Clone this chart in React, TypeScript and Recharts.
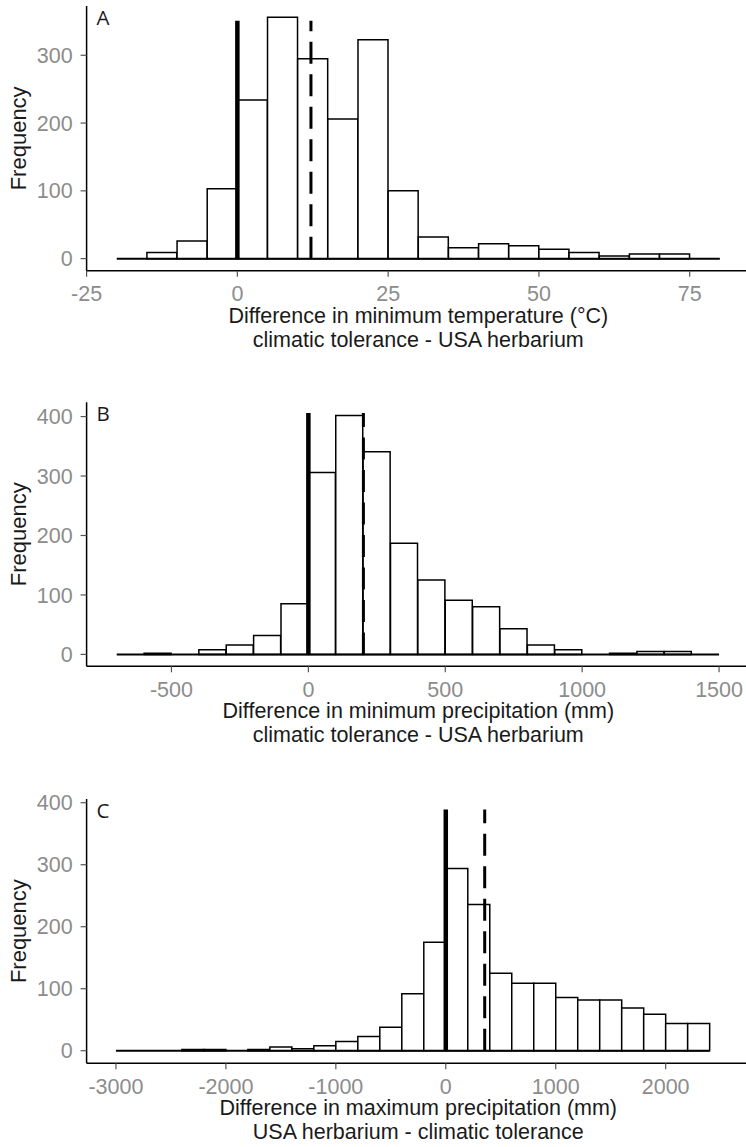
import { BarChart, Bar, XAxis, YAxis, ReferenceLine } from 'recharts'

const FONT = '"Liberation Sans", Arial, Helvetica, sans-serif'
const LETTER_FONT = '"Open Sans", "Liberation Sans", sans-serif'
const TICK_GREY = '#8c8c8c'
const INK = '#1a1a1a'

// A: minimum temperature difference, 5 °C bins starting at -20
const tempBinStart = -20
const tempBinWidth = 5
const tempCounts = [0, 9, 26, 103, 234, 356, 295, 206, 323, 100, 32, 16, 22, 19, 14, 9, 4, 7, 7, 0]
const tempTicks = [-25, 0, 25, 50, 75]
const tempFreqTicks = [0, 100, 200, 300]
const tempMarkers = [0, 12.2] // solid, dashed
const tempMarkerTop = 351

// B: minimum precipitation difference, 100 mm bins starting at -700
const minPrecBinStart = -700
const minPrecBinWidth = 100
const minPrecCounts = [0, 2, 0, 8, 16, 32, 85, 306, 402, 341, 187, 125, 91, 80, 43, 16, 8, 0, 2, 5, 5, 0]
const minPrecTicks = [-500, 0, 500, 1000, 1500]
const minPrecFreqTicks = [0, 100, 200, 300, 400]
const minPrecMarkers = [0, 201]
const minPrecMarkerTop = 406

// C: maximum precipitation difference, 200 mm bins starting at -3000
const maxPrecBinStart = -3000
const maxPrecBinWidth = 200
const maxPrecCounts = [
  0, 0, 0, 2, 2, 0, 2, 6, 3, 8, 15, 23, 38, 92, 175,
  294, 236, 125, 109, 109, 86, 82, 82, 69, 59, 44, 44,
]
const maxPrecTicks = [-3000, -2000, -1000, 0, 1000, 2000]
const maxPrecFreqTicks = [0, 100, 200, 300, 400]
const maxPrecMarkers = [0, 354]
const maxPrecMarkerTop = 389

const CHART_W = 760
const Y_AXIS_W = 86.6

function XTitle({ viewBox, lines }: any) {
  const cx = viewBox.x + viewBox.width / 2
  return (
    <text textAnchor="middle" fill={INK} fontSize={21.5} fontFamily={FONT}>
      <tspan x={cx} y={viewBox.y + 52}>{lines[0]}</tspan>
      <tspan x={cx} y={viewBox.y + 76}>{lines[1]}</tspan>
    </text>
  )
}

function YTitle({ viewBox, letter }: any) {
  const cy = viewBox.y + viewBox.height / 2
  return (
    <g>
      <text x={26} y={cy} transform={`rotate(-90 26 ${cy})`} textAnchor="middle"
        fill={INK} fontSize={22} fontFamily={FONT}>Frequency</text>
      <text x={viewBox.x + viewBox.width + 10} y={viewBox.y + 19} fill={INK}
        fontSize={20.5} fontFamily={LETTER_FONT}>{letter}</text>
    </g>
  )
}

function Histogram(p: any) {
  const data = p.counts.map((count: number, i: number) => ({
    mid: p.binStart + p.binWidth * (i + 0.5),
    count,
  }))
  const binEnd = p.binStart + p.binWidth * p.counts.length
  const chartH = p.height
  const marginTop = p.plotTop - p.top
  const xAxisH = chartH - (p.plotBottom - p.top)
  const tick = { fill: TICK_GREY, fontSize: 21.5, fontFamily: FONT }
  return (
    <div style={{ position: 'absolute', left: 0, top: p.top }}>
      <BarChart width={CHART_W} height={chartH} data={data}
        margin={{ top: marginTop, right: CHART_W - 750, bottom: 0, left: 0 }}
        barCategoryGap={0} barGap={0}>
        <XAxis dataKey="mid" type="number" domain={p.xDomain} ticks={p.xTicks} interval={0}
          allowDataOverflow height={xAxisH} tick={tick} tickSize={6} tickMargin={9}
          axisLine={{ stroke: '#000', strokeWidth: 1.5 }} tickLine={{ stroke: '#555', strokeWidth: 1.2 }}
          label={<XTitle lines={p.title} />} />
        <YAxis type="number" domain={p.yDomain} ticks={p.yTicks} interval={0}
          allowDataOverflow width={Y_AXIS_W} tick={tick} tickSize={6} tickMargin={8}
          axisLine={{ stroke: '#000', strokeWidth: 1.5 }} tickLine={{ stroke: '#555', strokeWidth: 1.2 }}
          label={<YTitle letter={p.letter} />} />
        <Bar dataKey="count" fill="#fff" stroke="#000" strokeWidth={1.5} isAnimationActive={false} />
        <ReferenceLine segment={[{ x: p.binStart, y: 0 }, { x: binEnd, y: 0 }]} stroke="#000" strokeWidth={2} />
        <ReferenceLine segment={[{ x: p.markers[0], y: 0 }, { x: p.markers[0], y: p.markerTop }]}
          stroke="#000" strokeWidth={4.5} />
        <ReferenceLine segment={[{ x: p.markers[1], y: 0 }, { x: p.markers[1], y: p.markerTop }]}
          stroke="#000" strokeWidth={3} strokeDasharray="22 10.5" />
      </BarChart>
    </div>
  )
}

export default function App() {
  return (
    <div style={{ position: 'absolute', left: 0, top: 0, width: 746, height: 1147, overflow: 'hidden', background: '#fff' }}>
      <Histogram letter="A" top={0} height={360} plotTop={6} plotBottom={270.7}
        counts={tempCounts} binStart={tempBinStart} binWidth={tempBinWidth}
        xDomain={[-25, 85]} yDomain={[-17.8, 372.7]} xTicks={tempTicks} yTicks={tempFreqTicks}
        markers={tempMarkers} markerTop={tempMarkerTop}
        title={['Difference in minimum temperature (°C)', 'climatic tolerance - USA herbarium']} />
      <Histogram letter="B" top={380} height={370} plotTop={402.3} plotBottom={666.3}
        counts={minPrecCounts} binStart={minPrecBinStart} binWidth={minPrecBinWidth}
        xDomain={[-810, 1613]} yDomain={[-20, 424]} xTicks={minPrecTicks} yTicks={minPrecFreqTicks}
        markers={minPrecMarkers} markerTop={minPrecMarkerTop}
        title={['Difference in minimum precipitation (mm)', 'climatic tolerance - USA herbarium']} />
      <Histogram letter="C" top={775} height={372} plotTop={799} plotBottom={1063.3}
        counts={maxPrecCounts} binStart={maxPrecBinStart} binWidth={maxPrecBinWidth}
        xDomain={[-3267, 2767]} yDomain={[-20.3, 406]} xTicks={maxPrecTicks} yTicks={maxPrecFreqTicks}
        markers={maxPrecMarkers} markerTop={maxPrecMarkerTop}
        title={['Difference in maximum precipitation (mm)', 'USA herbarium - climatic tolerance']} />
    </div>
  )
}
